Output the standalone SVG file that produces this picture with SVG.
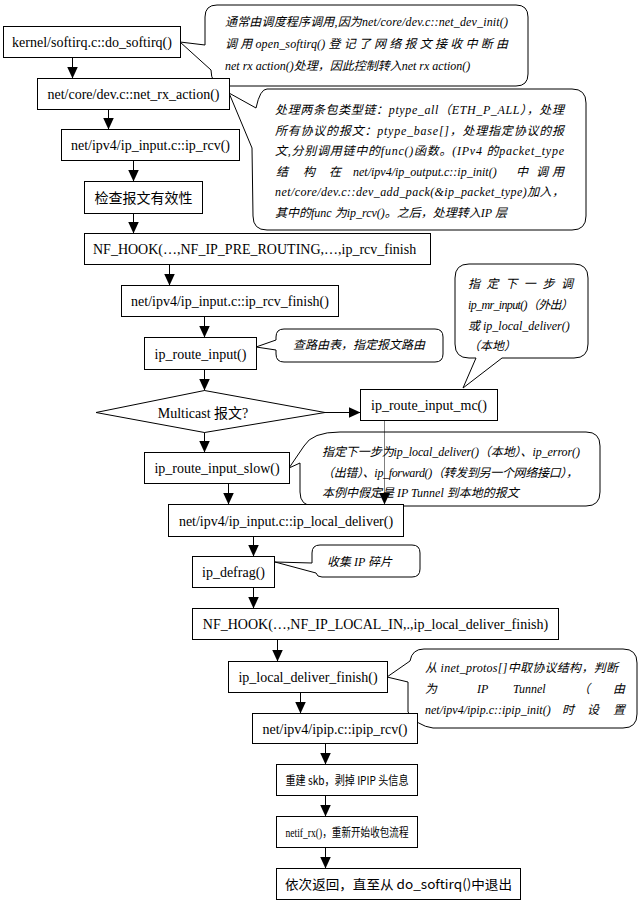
<svg xmlns="http://www.w3.org/2000/svg" width="644" height="902" viewBox="0 0 644 902">
<defs>
<marker id="ah" viewBox="0 0 12 11" refX="12" refY="5.5" markerWidth="12" markerHeight="11" markerUnits="userSpaceOnUse" orient="auto"><path d="M0,0 L12,5.5 L0,11 z" fill="#000"/></marker>
<style>
.box{fill:#fff;stroke:#000;stroke-width:1}
.bub{fill:#fff;stroke:#000;stroke-width:1}
.t{font-family:"Liberation Serif","Noto Sans CJK SC",serif;font-size:14px;fill:#000;text-anchor:middle}
.c{font-family:"Noto Sans CJK SC",sans-serif;font-size:13px;fill:#000;text-anchor:middle}
.n{font-family:"Liberation Serif","Noto Sans CJK SC",serif;font-size:12px;font-style:italic;fill:#000}
.ln{stroke:#000;stroke-width:1;fill:none;marker-end:url(#ah)}
.dot{stroke:#000;stroke-width:1;fill:none;stroke-dasharray:1 1;marker-end:url(#ah)}
</style>
</defs>
<rect width="644" height="902" fill="#fff"/>

<g id="note1">
<path class="bub" d="M217,5 L516,5 Q528,5 528,17 L528,74 Q528,86 516,86 L222,86 Q211,84 211,70 L180,42 L205,45 L205,17 Q205,5 217,5 Z"/>
<text class="n" x="225" y="26" textLength="283" lengthAdjust="spacing">通常由调度程序调用,因为net/core/dev.c::net_dev_init()</text>
<text class="n" x="225" y="48" textLength="283" lengthAdjust="spacing">调 用 open_softirq() 登 记 了 网 络 报 文 接 收 中 断 由</text>
<text class="n" x="225" y="70">net rx action()处理，因此控制转入net rx action()</text>
</g>
<g id="note2">
<path class="bub" d="M267,89 L572,89 Q586,89 586,103 L586,216 Q586,230 572,230 L267,230 Q253,230 253,216 L252,148 L229,93 L256,108 Q260,89 267,89 Z"/>
<text class="n" x="275" y="114" textLength="289" lengthAdjust="spacing">处理两条包类型链：ptype_all（ETH_P_ALL），处理</text>
<text class="n" x="275" y="135" textLength="289" lengthAdjust="spacing">所有协议的报文：ptype_base[]，处理指定协议的报</text>
<text class="n" x="275" y="155" textLength="289" lengthAdjust="spacing">文,分别调用链中的func()函数。(IPv4 的packet_type</text>
<text class="n" y="176"><tspan x="276">结</tspan><tspan x="303">构</tspan><tspan x="329">在</tspan><tspan x="353">net/ipv4/ip_output.c::ip_init()</tspan><tspan x="516">中</tspan><tspan x="536">调</tspan><tspan x="552">用</tspan></text>
<text class="n" x="275" y="196" textLength="289" lengthAdjust="spacing">net/core/dev.c::dev_add_pack(&amp;ip_packet_type)加入，</text>
<text class="n" x="275" y="217">其中的func 为ip_rcv()。之后，处理转入IP 层</text>
</g>
<g id="note3">
<path class="bub" d="M284,329 L435,329 Q443,329 443,337 L443,354 Q443,362 435,362 L284,362 Q276,362 276,354 L276,350 L256,347 L276,340 L276,337 Q276,329 284,329 Z"/>
<text class="n" x="293" y="349">查路由表，指定报文路由</text>
</g>
<g id="note4">
<path class="bub" d="M469,264 L574,264 Q588,264 588,278 L588,344 Q588,358 574,358 L502,358 L463,388 L476,358 L469,358 Q455,358 455,344 L455,278 Q455,264 469,264 Z"/>
<text class="n" x="468" y="288" textLength="105" lengthAdjust="spacing">指定下一步调</text>
<text class="n" x="468" y="309" textLength="105" lengthAdjust="spacing">ip_mr_input()（外出）</text>
<text class="n" x="468" y="330">或 ip_local_deliver()</text>
<text class="n" x="468" y="350">（本地）</text>
</g>
<g id="note5">
<path class="bub" d="M340,432 L586,432 Q600,432 600,446 L600,492 Q600,506 586,506 L314,506 Q300,506 300,492 L300,463 L289,468 L304,446 Q312,432 340,432 Z"/>
<text class="n" x="322" y="456" textLength="258" lengthAdjust="spacing">指定下一步为ip_local_deliver()（本地）、ip_error()</text>
<text class="n" x="322" y="477" textLength="256" lengthAdjust="spacing">（出错）、ip_forward()（转发到另一个网络接口），</text>
<text class="n" x="322" y="497">本例中假定是 IP Tunnel 到本地的报文</text>
</g>
<g id="note6">
<path class="bub" d="M320,545 L412,545 Q420,545 420,553 L420,569 Q420,577 412,577 L322,577 Q317,577 316,573 L275,562 L312,563 L312,553 Q312,545 320,545 Z"/>
<text class="n" x="327" y="566">收集 IP 碎片</text>
</g>
<g id="note7">
<path class="bub" d="M424,649 L623,649 Q637,649 637,663 L637,714 Q637,728 623,728 L433,728 Q417,726 408,712 L408,682 L387,677 L410,661 Q412,649 424,649 Z"/>
<text class="n" x="425" y="672" textLength="193" lengthAdjust="spacing">从 inet_protos[]中取协议结构，判断</text>
<text class="n" y="693"><tspan x="425">为</tspan><tspan x="477">IP</tspan><tspan x="513">Tunnel</tspan><tspan x="578">（</tspan><tspan x="613">由</tspan></text>
<text class="n" y="714"><tspan x="425">net/ipv4/ipip.c::ipip_init()</tspan><tspan x="562">时</tspan><tspan x="587">设</tspan><tspan x="613">置</tspan></text>
</g>

<g id="n1"><rect class="box" x="3.5" y="26.5" width="177" height="31"/><text class="t" x="92" y="47">kernel/softirq.c::do_softirq()</text></g>
<g id="n2"><rect class="box" x="37.5" y="78.5" width="192" height="31"/><text class="t" x="133.5" y="99">net/core/dev.c::net_rx_action()</text></g>
<g id="n3"><rect class="box" x="61.5" y="129.5" width="178" height="31"/><text class="t" x="150.5" y="150">net/ipv4/ip_input.c::ip_rcv()</text></g>
<g id="n4"><rect class="box" x="84.5" y="181.5" width="118" height="32"/><text class="c" x="143.5" y="202.5" style="font-size:14px" textLength="98" lengthAdjust="spacingAndGlyphs">检查报文有效性</text></g>
<g id="n5"><rect class="box" x="84.5" y="233.5" width="346" height="31"/><text class="t" x="93" y="254" style="text-anchor:start">NF_HOOK(…,NF_IP_PRE_ROUTING,…,ip_rcv_finish</text></g>
<g id="n6"><rect class="box" x="121.5" y="285.5" width="217" height="31"/><text class="t" x="230" y="306">net/ipv4/ip_input.c::ip_rcv_finish()</text></g>
<g id="n7"><rect class="box" x="144.5" y="337.5" width="112" height="32"/><text class="t" x="200.5" y="358.5">ip_route_input()</text></g>
<g id="n8"><polygon class="box" points="96,412.5 204.5,390.5 325,412.5 204.5,432.5"/><text class="t" x="203" y="418">Multicast 报文?</text></g>
<g id="n9"><rect class="box" x="360.5" y="389.5" width="137" height="31"/><text class="t" x="429" y="410">ip_route_input_mc()</text></g>
<g id="n10"><rect class="box" x="144.5" y="452.5" width="145" height="31"/><text class="t" x="217" y="473">ip_route_input_slow()</text></g>
<g id="n11"><rect class="box" x="168.5" y="504.5" width="235" height="32"/><text class="t" x="286" y="525.5">net/ipv4/ip_input.c::ip_local_deliver()</text></g>
<g id="n12"><rect class="box" x="192.5" y="556.5" width="82" height="31"/><text class="t" x="233.5" y="577">ip_defrag()</text></g>
<g id="n13"><rect class="box" x="192.5" y="608.5" width="366" height="31"/><text class="t" x="375.5" y="629">NF_HOOK(…,NF_IP_LOCAL_IN,.,ip_local_deliver_finish)</text></g>
<g id="n14"><rect class="box" x="228.5" y="661.5" width="159" height="31"/><text class="t" x="308" y="682">ip_local_deliver_finish()</text></g>
<g id="n15"><rect class="box" x="252.5" y="713.5" width="165" height="30"/><text class="t" x="335" y="733.5">net/ipv4/ipip.c::ipip_rcv()</text></g>
<g id="n16"><rect class="box" x="276.5" y="764.5" width="141" height="31"/><text class="c" x="347" y="785" style="font-size:12px" textLength="123" lengthAdjust="spacingAndGlyphs">重建 skb，剥掉 IPIP 头信息</text></g>
<g id="n17"><rect class="box" x="276.5" y="816.5" width="141" height="31"/><text class="t" x="347" y="836.5" style="font-size:12px" textLength="123" lengthAdjust="spacingAndGlyphs">netif_rx()，重新开始收包流程</text></g>
<g id="n18"><rect class="box" x="276.5" y="868.5" width="244" height="31"/><text class="c" x="398.5" y="889" textLength="227" lengthAdjust="spacingAndGlyphs">依次返回，直至从 do_softirq()中退出</text></g>

<g id="connectors">
<line class="ln" x1="72.5" y1="57.5" x2="72.5" y2="78.5"/>
<line class="ln" x1="108.5" y1="109.5" x2="108.5" y2="129.5"/>
<line class="ln" x1="133.5" y1="160.5" x2="133.5" y2="181.5"/>
<line class="ln" x1="133.5" y1="213.5" x2="133.5" y2="233.5"/>
<line class="ln" x1="169.5" y1="264.5" x2="169.5" y2="285.5"/>
<line class="ln" x1="204.5" y1="316.5" x2="204.5" y2="337.5"/>
<line class="ln" x1="204.5" y1="369.5" x2="204.5" y2="390.5"/>
<line class="ln" x1="204.5" y1="432.5" x2="204.5" y2="452.5"/>
<line class="ln" x1="325" y1="412.5" x2="360.5" y2="412.5"/>
<line class="ln" x1="228.5" y1="483.5" x2="228.5" y2="504.5"/>
<line class="dot" x1="384.5" y1="420.5" x2="384.5" y2="504.5"/>
<line class="ln" x1="253.5" y1="536.5" x2="253.5" y2="556.5"/>
<line class="ln" x1="253.5" y1="587.5" x2="253.5" y2="608.5"/>
<line class="ln" x1="277.5" y1="639.5" x2="277.5" y2="661.5"/>
<line class="ln" x1="300.5" y1="692.5" x2="300.5" y2="713.5"/>
<line class="ln" x1="325.5" y1="743.5" x2="325.5" y2="764.5"/>
<line class="ln" x1="325.5" y1="795.5" x2="325.5" y2="816.5"/>
<line class="ln" x1="325.5" y1="847.5" x2="325.5" y2="868.5"/>
</g>
</svg>
